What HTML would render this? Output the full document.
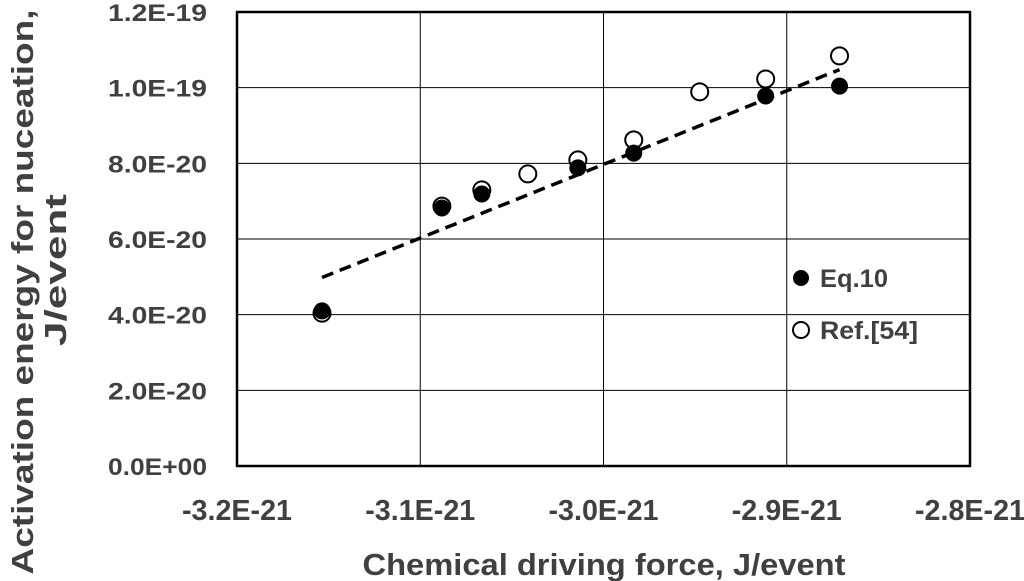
<!DOCTYPE html>
<html><head><meta charset="utf-8"><style>
body{margin:0;background:#fff;}
svg{display:block;font-family:"Liberation Sans",sans-serif;font-weight:bold;}
</style></head><body>
<svg id="chart" width="1024" height="581"></svg>
<script>
const xTicks=[-3.2,-3.1,-3.0,-2.9,-2.8];
const xTickLabels=["-3.2E-21","-3.1E-21","-3.0E-21","-2.9E-21","-2.8E-21"];
const yTicks=[0,2,4,6,8,10,12];
const yTickLabels=["0.0E+00","2.0E-20","4.0E-20","6.0E-20","8.0E-20","1.0E-19","1.2E-19"];
const eqX=[-3.1536,-3.0882,-3.0664,-3.014,-2.9835,-2.9115,-2.8712];
const eqY=[4.10,6.82,7.19,7.88,8.27,9.78,10.04];
const refX=[-3.1536,-3.0882,-3.0664,-3.0413,-3.014,-2.9835,-2.9475,-2.9115,-2.8712];
const refY=[4.04,6.87,7.30,7.72,8.09,8.62,9.89,10.23,10.84];

const L=237,R=970,T=12,B=466;
const sx=v=>L+(v-(-3.2))/0.4*(R-L);
const sy=v=>B-v/12*(B-T);
const svg=document.getElementById('chart');
const NS="http://www.w3.org/2000/svg";
function mk(tag,attrs,parent){const e=document.createElementNS(NS,tag);for(const k in attrs)e.setAttribute(k,attrs[k]);(parent||svg).appendChild(e);return e;}

xTicks.forEach((v,i)=>{
  const g=mk('line',{x1:sx(v),x2:sx(v),y1:T,y2:B,stroke:'#000','stroke-width':1});
  
  
  const t=mk('text',{x:sx(v),y:520,'text-anchor':'middle','font-size':29,fill:'#404040',textLength:110,lengthAdjust:'spacingAndGlyphs'});
  t.textContent=xTickLabels[i];
  
  
});
yTicks.forEach((v,i)=>{
  const g=mk('line',{x1:L,x2:R,y1:sy(v),y2:sy(v),stroke:'#000','stroke-width':1});
  
  
  const t=mk('text',{x:207,y:sy(v)+9,'text-anchor':'end','font-size':24,fill:'#404040',textLength:99,lengthAdjust:'spacingAndGlyphs'});
  t.textContent=yTickLabels[i];
  
  
});
const frame=mk('rect',{x:L,y:T,width:R-L,height:B-T,fill:'none',stroke:'#000','stroke-width':2.5});



const n=eqX.length,mx=eqX.reduce((a,b)=>a+b)/n,my=eqY.reduce((a,b)=>a+b)/n;
let sxy=0,sxx=0;for(let i=0;i<n;i++){sxy+=(eqX[i]-mx)*(eqY[i]-my);sxx+=(eqX[i]-mx)**2;}
const slope=sxy/sxx,x0=Math.min(...eqX),x1=Math.max(...eqX);
const tl=mk('line',{x1:sx(x0),y1:sy(my+slope*(x0-mx)),x2:sx(x1),y2:sy(my+slope*(x1-mx)),stroke:'#000','stroke-width':3.5,'stroke-dasharray':'12,7'});



refX.forEach((v,i)=>{
  const c=mk('circle',{cx:sx(v),cy:sy(refY[i]),r:8.5,fill:'#fff',stroke:'#000','stroke-width':2});
  
  
});
eqX.forEach((v,i)=>{
  const c=mk('circle',{cx:sx(v),cy:sy(eqY[i]),r:8.5,fill:'#000'});
  
  
});

const l1=mk('circle',{cx:801,cy:278,r:8,fill:'#000'});


const lt1=mk('text',{x:820,y:287,'font-size':25,fill:'#404040',textLength:68,lengthAdjust:'spacingAndGlyphs'});lt1.textContent='Eq.10';


const l2=mk('circle',{cx:801,cy:330,r:8,fill:'#fff',stroke:'#000','stroke-width':2});


const lt2=mk('text',{x:820,y:339,'font-size':25,fill:'#404040',textLength:98,lengthAdjust:'spacingAndGlyphs'});lt2.textContent='Ref.[54]';



const xt=mk('text',{x:604,y:575,'text-anchor':'middle','font-size':31,fill:'#404040',textLength:483,lengthAdjust:'spacingAndGlyphs'});
xt.textContent='Chemical driving force, J/event';


const yt=mk('text',{transform:'translate(33,292) rotate(-90)','text-anchor':'middle','font-size':31,fill:'#404040',textLength:565,lengthAdjust:'spacingAndGlyphs'});
yt.textContent='Activation energy for nuceation,';


const yt2=mk('text',{transform:'translate(66,270) rotate(-90)','text-anchor':'middle','font-size':31,fill:'#404040',textLength:152,lengthAdjust:'spacingAndGlyphs'});
yt2.textContent='J/event';


</script>
</body></html>
